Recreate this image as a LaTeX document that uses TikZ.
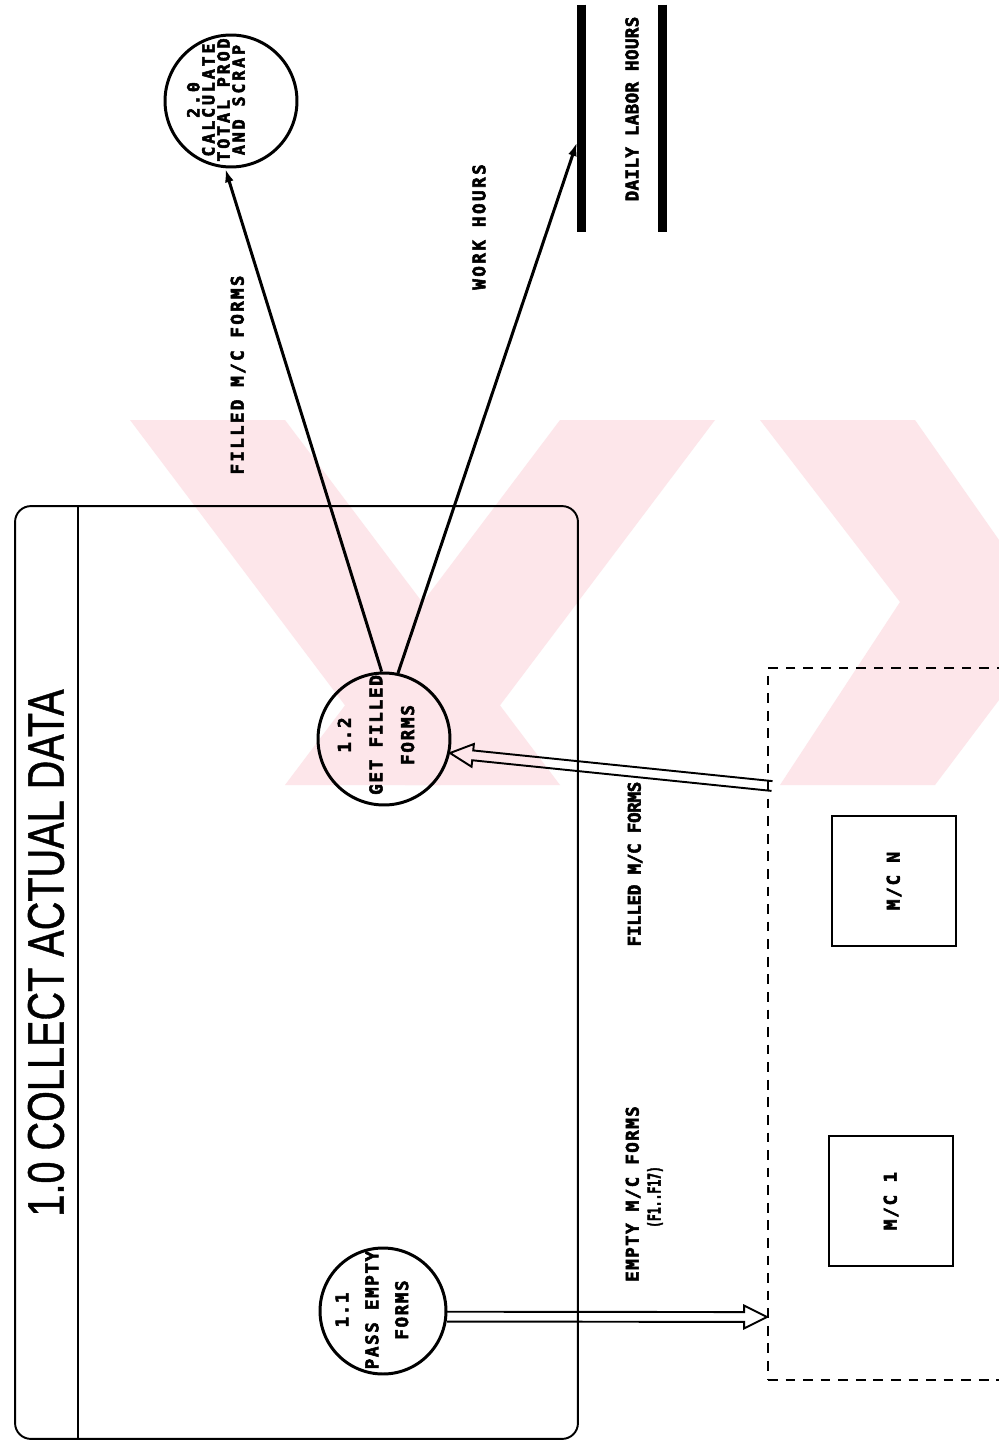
\documentclass[tikz,border=0pt]{standalone}
\usepackage{graphicx}
\usepackage{fontspec}
\setmainfont{Liberation Sans}
\newfontfamily\lblfont{DejaVu Sans Mono Bold}[FakeBold=3]
\newfontfamily\ttlfont{Liberation Sans}[FakeBold=1]
\usetikzlibrary{arrows.meta,calc}
\definecolor{wmpink}{RGB}{253,230,234}
\newcommand\lbltxt[2]{{\lblfont\addfontfeature{LetterSpace=#1}#2}}
\newcommand\hollowarr[2]{%
  \path ($(#2)!13pt!(#1)$) coordinate (hh);
  \draw[hollow]
   ($(#1)!2.8pt!90:(#2)$) -- ($(hh)!2.8pt!90:(#2)$) -- ($(hh)!6.5pt!90:(#2)$) -- (#2)
   -- ($(hh)!6.5pt!-90:(#2)$) -- ($(hh)!2.8pt!-90:(#2)$) -- ($(#1)!2.8pt!-90:(#2)$);
}
\begin{document}
\begin{tikzpicture}[x=0.02cm,y=-0.02cm,
  proc/.style={circle,draw,line width=1.7pt,minimum size=#1,inner sep=0pt},
  lbl/.style={rotate=90,inner sep=0pt,font=\fontsize{10}{8.8}\selectfont,align=center},
  mcbox/.style={draw,line width=1.5pt,rotate=90,minimum width=2.6cm,minimum height=2.48cm,inner sep=0pt,font=\fontsize{10}{10}\selectfont},
  flow/.style={line width=1.7pt,-{Latex[length=8pt,width=5pt]}},
  hollow/.style={line width=1.1pt,line join=miter},
  bar/.style={line width=5.2pt},
  wm/.style={fill=wmpink,draw=none}]
\fill[white] (0,0) rectangle (999,1442);
\useasboundingbox (0,0) rectangle (999,1442);

% faint watermark
\fill[wm] (130,420) -- (285,420) -- (560,785) -- (405,785) -- cycle;
\fill[wm] (560,420) -- (715,420) -- (440,785) -- (285,785) -- cycle;
\fill[wm] (760,420) -- (915,420) -- (999,540) -- (999,700) -- (935,785) -- (780,785) -- (900,602) -- cycle;

% frame of process 1.0
\node[draw,line width=1.1pt,rounded corners=9pt,minimum width=11.26cm,minimum height=18.66cm,inner sep=0pt] (frame) at (296.5,972.5) {};
\draw[line width=1.1pt] ($(frame.north west)+(64,0)$) -- ($(frame.south west)+(64,0)$);
\node[rotate=90,inner sep=0pt,font=\ttlfont\fontsize{29.3}{30}\selectfont] (title) at (46,953) {\scalebox{0.77}[1]{1.0 COLLECT ACTUAL DATA}};

% processes
\node[proc=2.64cm] (c20) at (231,101) {};
\node[lbl,font=\fontsize{9.5}{8.6}\selectfont] (t20) at (216,100) {\lbltxt{17}{2.0}\\\lbltxt{17}{CALCULATE}\\\lbltxt{17}{TOTAL PROD}\\\lbltxt{17}{AND SCRAP}};
\node[proc=2.64cm] (c12) at (384,739) {};
\node[lbl,font=\fontsize{10}{18}\selectfont] (t12) at (376,735) {\lbltxt{10}{1.2}\\\lbltxt{10}{GET FILLED}\\\lbltxt{10}{FORMS}};
\node[proc=2.52cm] (c11) at (383,1311) {};
\node[lbl,font=\fontsize{10}{17}\selectfont] (t11) at (372,1310) {\lbltxt{9}{1.1}\\\lbltxt{9}{PASS EMPTY}\\\lbltxt{9}{FORMS}};

% data store
\node[minimum width=1.6cm,minimum height=4.54cm,inner sep=0pt] (ds) at (622,118.5) {};
\draw[bar] (ds.north west) -- (ds.south west);
\draw[bar] (ds.north east) -- (ds.south east);
\node[lbl] (dslbl) at (632,109) {\lbltxt{2}{DAILY LABOR HOURS}};
\coordinate (dsin) at (577,142);

% machines group
\node[draw,line width=1.2pt,dash pattern=on 5.5pt off 4.5pt,minimum width=5.28cm,minimum height=14.24cm,inner sep=0pt] (grp) at (900,1024) {};
\node[mcbox] (mcn) at (894,881) {\lbltxt{10}{M/C N}};
\node[mcbox] (mc1) at (891,1201) {\lbltxt{10}{M/C 1}};
\coordinate (g1) at (767,1317);
\coordinate (g2) at (772,786);

% flows
\draw[flow] (c12.92) -- (c20.-95);
\draw[flow] (c12.78) -- (dsin);
\hollowarr{c11.-5}{g1}
\hollowarr{g2}{c12.-12}

% flow labels
\node[lbl] (l1) at (238,375) {\lbltxt{13}{FILLED M/C FORMS}};
\node[lbl] (l2) at (479,227) {\lbltxt{14}{WORK HOURS}};
\node[lbl] (l3) at (635,864) {\lbltxt{-2}{FILLED M/C FORMS}};
\node[lbl] (l4) at (633,1194) {\lbltxt{8}{EMPTY M/C FORMS}};
\node[lbl] (l5) at (655,1197) {\scalebox{0.65}[1]{\lbltxt{0}{(F1..F17)}}};
\end{tikzpicture}
\end{document}
